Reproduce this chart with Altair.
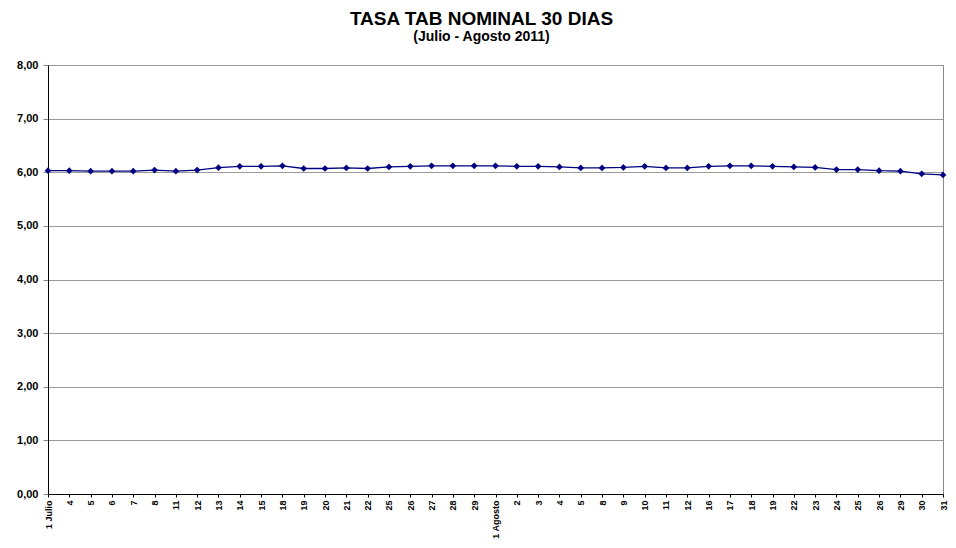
import altair as alt
import pandas as pd

labels = ["1 Julio", "4", "5", "6", "7", "8", "11", "12", "13", "14", "15", "18", "19", "20",
          "21", "22", "25", "26", "27", "28", "29",
          "1 Agosto", "2", "3", "4", "5", "8", "9", "10", "11", "12", "16", "17", "18", "19",
          "22", "23", "24", "25", "26", "29", "30", "31"]
values = [6.03, 6.03, 6.02, 6.02, 6.02, 6.04, 6.02, 6.04, 6.085, 6.11, 6.11, 6.12, 6.07, 6.07,
          6.08, 6.07, 6.10, 6.11, 6.12, 6.12, 6.12,
          6.12, 6.11, 6.11, 6.10, 6.08, 6.08, 6.09, 6.11, 6.08, 6.08, 6.11, 6.12, 6.12, 6.11,
          6.10, 6.09, 6.05, 6.05, 6.03, 6.02, 5.97, 5.95]
y_ticks = [0, 1, 2, 3, 4, 5, 6, 7, 8]

df = pd.DataFrame({"i": list(range(len(labels))), "label": labels, "v": values})

label_arr = "[" + ",".join("'" + l + "'" for l in labels) + "]"
FONT = "Liberation Sans"
NAVY = "#000080"

x = alt.X("i:Q", scale=alt.Scale(domain=[0, len(labels) - 1], nice=False, zero=False),
          axis=alt.Axis(values=list(range(len(labels))), labelExpr=label_arr + "[datum.value]",
                        labelAngle=270, labelFont=FONT, labelFontSize=9, labelFontWeight="bold",
                        labelColor="black", domainColor="black", domainWidth=1,
                        tickColor="black", tickSize=3, labelPadding=3, grid=False,
                        title=None, labelOverlap=False))
y = alt.Y("v:Q", scale=alt.Scale(domain=[0, 8], nice=False),
          axis=alt.Axis(values=y_ticks, labelExpr="replace(format(datum.value, '.2f'), '.', ',')",
                        labelFont=FONT, labelFontSize=11, labelFontWeight="bold", labelColor="black",
                        domainColor="black", domainWidth=1, tickColor="#888888", tickSize=5,
                        labelPadding=5, grid=True, gridColor="#999999", gridWidth=1, title=None))

line = alt.Chart(df).mark_line(color=NAVY, strokeWidth=1.3).encode(x=x, y=y)
pts = alt.Chart(df).mark_point(shape="diamond", filled=True, color=NAVY, size=45, opacity=1).encode(x=x, y=y)

chart = (line + pts).properties(
    width=895, height=429,
    autosize=alt.AutoSizeParams(type="none"),
    padding={"left": 40, "top": 57, "right": 5, "bottom": 46},
    title=alt.TitleParams(text="TASA TAB NOMINAL 30 DIAS", subtitle="(Julio - Agosto 2011)",
                          font=FONT, fontSize=19, fontWeight="bold", color="black",
                          subtitleFont=FONT, subtitleFontSize=14, subtitleFontWeight="bold",
                          subtitleColor="black", anchor="middle", dx=-14, offset=15,
                          subtitlePadding=1),
).configure_view(stroke="#888888", strokeWidth=1)

chart.save("out.html", embed_options={"renderer": "svg", "actions": False})
